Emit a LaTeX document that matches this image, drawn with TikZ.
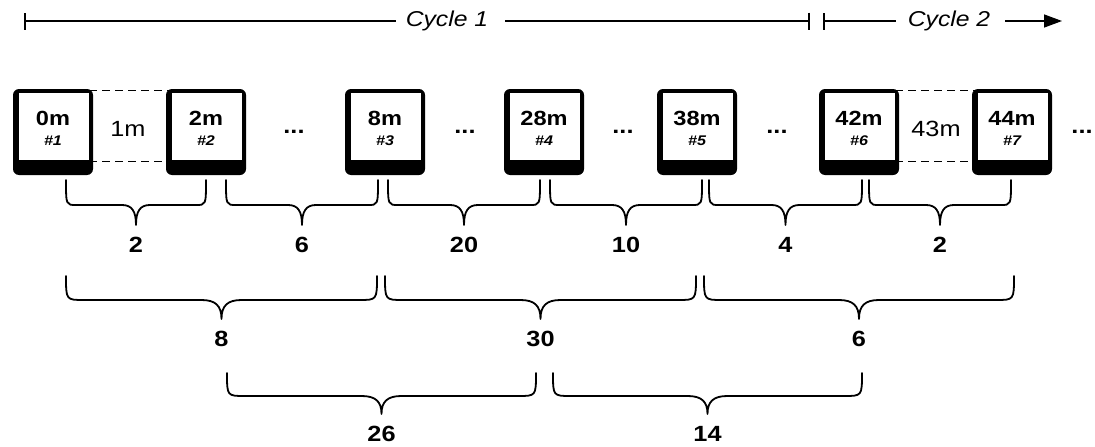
\documentclass[tikz,border=0pt]{standalone}
\usepackage{fontspec}
\setmainfont{Liberation Sans}[FakeStretch=1.15]
\usetikzlibrary{arrows.meta}
\tikzset{
  face/.style={draw=black, line width=0.8pt, fill=white, minimum width=71pt, minimum height=68pt, inner sep=0pt},
  bigt/.style={font=\fontsize{20.5}{20.5}\selectfont\bfseries, inner sep=0pt},
  smallt/.style={font=\fontsize{14}{14}\selectfont\bfseries\itshape, inner sep=0pt},
  gapt/.style={font=\fontsize{22}{22}\selectfont, inner sep=0pt},
  dotst/.style={font=\fontsize{22}{22}\selectfont\bfseries, inner sep=0pt},
  num/.style={font=\fontsize{22}{22}\selectfont\bfseries, inner sep=0pt},
  cyc/.style={font=\fontsize{21.5}{21.5}\selectfont\itshape, inner sep=0pt},
  brc/.style={line width=1.8pt, line cap=round, line join=round},
  tline/.style={line width=1.4pt},
  gapline/.style={line width=1.1pt, dash pattern=on 8pt off 5pt},
}
\newcommand\tapebox[4]{%
  \fill[black, rounded corners=6pt] ({#2-40},89) -- ({#2+40},89) -- ({#2+40},175) -- ({#2-40},175) -- cycle;
  \node[face] (#1) at ({#2+0.5},126) {};
  \node[bigt] (#1a) at (#2,118) {#3};
  \node[smallt] (#1b) at (#2,141) {\##4};
}
% x1, x2, top, horiz, tip, corner r, center c, label, name
\newcommand\mybrace[9]{%
  \pgfmathsetmacro\xm{(#1+#2)/2}%
  \pgfmathsetmacro\cw{(#5-#4)}%
  \draw[brc] (#1,#3) .. controls (#1,#4) and (#1,#4) .. ({#1+#6},#4)
    -- ({\xm-#7},#4) .. controls ({\xm-0.3*#7},#4) and (\xm,{#4+0.3*\cw}) .. (\xm,#5)
    .. controls (\xm,{#4+0.3*\cw}) and ({\xm+0.3*#7},#4) .. ({\xm+#7},#4)
    -- ({#2-#6},#4) .. controls (#2,#4) and (#2,#4) .. (#2,#3);
  \node[num] (#9) at (\xm,{#5+20}) {#8};
}
\begin{document}
\begin{tikzpicture}[x=1pt,y=-1pt]
\useasboundingbox (0,0) rectangle (1095,447);

% top cycle line
\coordinate (s1) at (24,21);
\node[cyc] (cy1) at (447,21) {Cycle 1};
\coordinate (e1) at (810,21);
\coordinate (s2) at (823,21);
\node[cyc] (cy2) at (949,21) {Cycle 2};
\coordinate (e2) at (1062,21);
\draw[tline, {Bar[width=17pt,line width=2pt]}-] (s1) -- ([xshift=-10pt]cy1.west);
\draw[tline, -{Bar[width=17pt,line width=2pt]}] ([xshift=17pt]cy1.east) -- (e1);
\draw[tline, {Bar[width=17pt,line width=2pt]}-] (s2) -- ([xshift=-12pt]cy2.west);
\draw[tline, -{Triangle[length=18pt,width=13pt]}] ([xshift=15pt]cy2.east) -- (e2);

% tapes
\tapebox{t1}{53}{0m}{1}
\tapebox{t2}{206}{2m}{2}
\tapebox{t3}{385}{8m}{3}
\tapebox{t4}{544}{28m}{4}
\tapebox{t5}{697}{38m}{5}
\tapebox{t6}{859}{42m}{6}
\tapebox{t7}{1012}{44m}{7}

% gaps
\draw[gapline] ([yshift=1pt]t1.north east) -- ([yshift=1pt]t2.north west);
\draw[gapline] ([yshift=-1pt]t1.south east) -- ([yshift=-1pt]t2.south west);
\draw[gapline] ([yshift=1pt]t6.north east) -- ([yshift=1pt]t7.north west);
\draw[gapline] ([yshift=-1pt]t6.south east) -- ([yshift=-1pt]t7.south west);
\node[gapt] (g1) at (128,129) {1m};
\node[gapt] (g2) at (936,129) {43m};

% dots
\node[dotst] (d1) at (294,132) {...};
\node[dotst] (d2) at (465,132) {...};
\node[dotst] (d3) at (623,132) {...};
\node[dotst] (d4) at (777,132) {...};
\node[dotst] (d5) at (1082,132) {...};

% braces row 1
\mybrace{66}{206}{180}{205}{225}{10}{14}{2}{b1}
\mybrace{226}{378}{180}{205}{225}{10}{14}{6}{b2}
\mybrace{388}{540}{180}{205}{225}{10}{14}{20}{b3}
\mybrace{550}{702}{180}{205}{225}{10}{14}{10}{b4}
\mybrace{709}{862}{180}{205}{225}{10}{14}{4}{b5}
\mybrace{869}{1011}{180}{205}{225}{10}{14}{2}{b6}

% braces row 2
\mybrace{66}{377}{276}{300}{319}{18}{20}{8}{c1}
\mybrace{385}{696}{276}{300}{319}{18}{20}{30}{c2}
\mybrace{704}{1014}{276}{300}{319}{18}{20}{6}{c3}

% braces row 3
\mybrace{227}{536}{373}{396}{414}{18}{20}{26}{d6}
\mybrace{553}{862}{373}{396}{414}{18}{20}{14}{d7}
\end{tikzpicture}
\end{document}
